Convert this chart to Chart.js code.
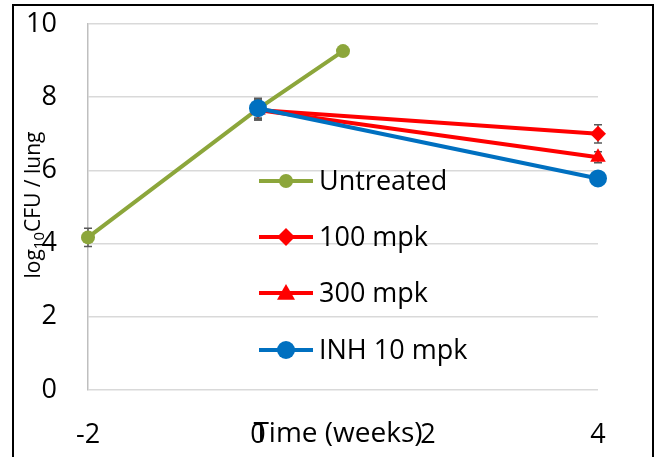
<!DOCTYPE html>
<html>
<head>
<meta charset="utf-8">
<script src="https://cdn.jsdelivr.net/npm/chart.js@4"></script>
<style>
  html, body { margin: 0; padding: 0; background: #fff; }
  #wrap { position: relative; width: 655px; height: 457px; overflow: hidden; }
  #frame { position: absolute; left: 12px; top: 4px; width: 638px; height: 470px; border: 2px solid #000; pointer-events: none; }
</style>
</head>
<body>
<div id="wrap">
  <canvas id="cfuChart" width="655" height="457"></canvas>
  <div id="frame"></div>
</div>
<script>
// ── data ─────────────────────────────────────────────
const xTicks = [-2, 0, 2, 4];
const yTicks = [0, 2, 4, 6, 8, 10];

const untreatedX   = [-2, 0, 1];
const untreatedY   = [4.17, 7.68, 9.26];
const untreatedErr = [0.25, 0.27, 0];

const mpk100X   = [0, 4];
const mpk100Y   = [7.65, 7.0];
const mpk100Err = [0.27, 0.25];

const mpk300X   = [0, 4];
const mpk300Y   = [7.65, 6.36];
const mpk300Err = [0.27, 0.15];

const inhX   = [0, 4];
const inhY   = [7.7, 5.78];
const inhErr = [0.27, 0.1];

const FONT = '"Open Sans", sans-serif';

function pts(xs, ys) { return xs.map((x, i) => ({ x, y: ys[i] })); }

// ── error bars (drawn through the scales) ────────────
const errorBars = {
  id: 'errorBars',
  beforeDatasetsDraw(chart) {
    const { ctx, scales: { x, y } } = chart;
    ctx.save();
    ctx.strokeStyle = '#595959';
    ctx.lineWidth = 1.5;
    chart.data.datasets.forEach(ds => {
      (ds.err || []).forEach((e, i) => {
        if (!e) return;
        const px = x.getPixelForValue(ds.data[i].x);
        const top = y.getPixelForValue(ds.data[i].y + e);
        const bot = y.getPixelForValue(ds.data[i].y - e);
        ctx.beginPath();
        ctx.moveTo(px, top); ctx.lineTo(px, bot);
        ctx.moveTo(px - 4, top); ctx.lineTo(px + 4, top);
        ctx.moveTo(px - 4, bot); ctx.lineTo(px + 4, bot);
        ctx.stroke();
      });
    });
    ctx.restore();
  }
};

// ── titles + in-plot legend ──────────────────────────
function marker(ctx, style, x, y, r, color) {
  ctx.fillStyle = color;
  ctx.beginPath();
  if (style === 'rectRot') {
    ctx.moveTo(x, y - r); ctx.lineTo(x + r, y); ctx.lineTo(x, y + r); ctx.lineTo(x - r, y);
  } else if (style === 'triangle') {
    ctx.moveTo(x, y - r); ctx.lineTo(x + r, y + r * 0.75); ctx.lineTo(x - r, y + r * 0.75);
  } else {
    ctx.arc(x, y, r, 0, Math.PI * 2);
  }
  ctx.closePath();
  ctx.fill();
}

const overlay = {
  id: 'overlay',
  afterDraw(chart) {
    const { ctx } = chart;
    ctx.save();
    // x title, sits on the tick row like the original
    ctx.fillStyle = '#000';
    ctx.font = '28px ' + FONT;
    ctx.textAlign = 'center';
    ctx.textBaseline = 'middle';
    ctx.fillText('Time (weeks)', 338, 434);

    // y title with subscript
    ctx.translate(34, 205);
    ctx.rotate(-Math.PI / 2);
    const parts = [['log', 21, 0], ['10', 15, 6], ['CFU / lung', 21, 0]];
    let w = 0;
    parts.forEach(p => { ctx.font = p[1] + 'px ' + FONT; w += ctx.measureText(p[0]).width; });
    let cx = -w / 2;
    ctx.textAlign = 'left';
    parts.forEach(p => {
      ctx.font = p[1] + 'px ' + FONT;
      ctx.fillText(p[0], cx, p[2]);
      cx += ctx.measureText(p[0]).width;
    });
    ctx.restore();

    // legend
    ctx.save();
    const rows = [181, 237, 293, 350];
    chart.data.datasets.forEach((ds, i) => {
      const yy = rows[i];
      ctx.strokeStyle = ds.borderColor;
      ctx.lineWidth = 4;
      ctx.beginPath(); ctx.moveTo(259, yy); ctx.lineTo(313, yy); ctx.stroke();
      marker(ctx, ds.pointStyle, 286, yy, ds.legendR, ds.borderColor);
      ctx.fillStyle = '#000';
      ctx.font = '27px ' + FONT;
      ctx.textAlign = 'left';
      ctx.textBaseline = 'middle';
      ctx.fillText(ds.label, 319, yy + 1);
    });
    ctx.restore();
  }
};

new Chart(document.getElementById('cfuChart'), {
  type: 'line',
  data: {
    datasets: [
      { label: 'Untreated', data: pts(untreatedX, untreatedY), err: untreatedErr,
        borderColor: '#8CA63B', backgroundColor: '#8CA63B', pointStyle: 'circle',
        pointRadius: 7, legendR: 7, order: 3 },
      { label: '100 mpk', data: pts(mpk100X, mpk100Y), err: mpk100Err,
        borderColor: '#FF0000', backgroundColor: '#FF0000', pointStyle: 'rectRot',
        pointRadius: 8, legendR: 9, order: 2 },
      { label: '300 mpk', data: pts(mpk300X, mpk300Y), err: mpk300Err,
        borderColor: '#FF0000', backgroundColor: '#FF0000', pointStyle: 'triangle',
        pointRadius: 9, legendR: 9, order: 1 },
      { label: 'INH 10 mpk', data: pts(inhX, inhY), err: inhErr,
        borderColor: '#0070C0', backgroundColor: '#0070C0', pointStyle: 'circle',
        pointRadius: 9, legendR: 9, order: 0 }
    ].map(d => Object.assign({ borderWidth: 4, pointBorderWidth: 0, tension: 0, fill: false, clip: false }, d))
  },
  options: {
    responsive: false,
    animation: false,
    layout: { padding: { left: 0, right: 57, top: 24, bottom: 0 } },
    plugins: { legend: { display: false }, tooltip: { enabled: false } },
    scales: {
      x: {
        type: 'linear', min: -2, max: 4,
        afterBuildTicks: s => { s.ticks = xTicks.map(v => ({ value: v })); },
        afterFit: s => { s.height = 67; s.paddingLeft = 0; s.paddingRight = 0; },
        grid: { display: false },
        border: { display: false },
        ticks: { color: '#000', font: { family: FONT, size: 27 }, padding: 21, maxRotation: 0 }
      },
      y: {
        min: 0, max: 10,
        afterBuildTicks: s => { s.ticks = yTicks.map(v => ({ value: v })); },
        afterFit: s => { s.width = 88; s.paddingTop = 0; s.paddingBottom = 0; },
        grid: { color: '#D9D9D9', lineWidth: 1.5, drawTicks: false },
        border: { display: true, color: '#BFBFBF', width: 1.5 },
        ticks: { color: '#000', font: { family: FONT, size: 27 }, padding: 31 }
      }
    }
  },
  plugins: [errorBars, overlay]
});
</script>
</body>
</html>
